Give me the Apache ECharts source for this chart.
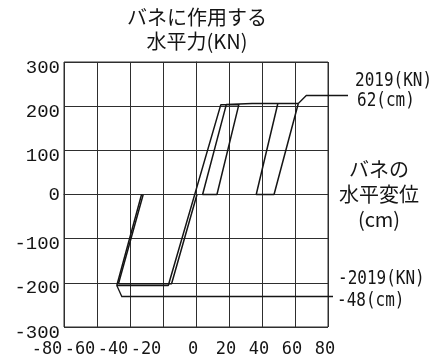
<!DOCTYPE html>
<html>
<head>
<meta charset="utf-8">
<script src="https://cdn.jsdelivr.net/npm/echarts@6/dist/echarts.min.js"></script>
<style>
  html, body { margin: 0; padding: 0; background: #fff; }
  #chart { width: 435px; height: 362px; }
</style>
</head>
<body>
<div id="chart"></div>
<script>
// Axis ranges (displacement in cm, force)
const dispRange = [-80, 80];
const dispStep = 20;
const forceRange = [-300, 300];
const forceStep = 100;

// Hysteresis traces: [displacement, force]
const outerPath = [
  [-33, 0], [-48, -206], [-16.8, -206], [15, 203], [26, 204],
  [12.7, 0], [4, 0], [18.4, 204], [34, 206], [62, 206],
  [47.3, 0], [36.5, 0], [49.6, 206]
];
const innerPath = [
  [-32, 0], [-47, -202], [-14.8, -202], [0.6, 0]
];

// Extreme points and their annotations
const peakPos = [62, 206];
const peakNeg = [-48, -206];
const peakPosText = ['2019(KN)', '62(cm)'];
const peakNegText = ['-2019(KN)', '-48(cm)'];

const titleText = 'バネに作用する\n水平力(KN)';
const xNameText = 'バネの\n水平変位\n(cm)';

const ink = '#151515';
const gridInk = '#2e2e2e';
const cjk = '"Noto Sans CJK JP", sans-serif';
const mono = '"DejaVu Sans Mono", monospace';

const chart = echarts.init(document.getElementById('chart'), null, { renderer: 'canvas' });

const traceSeries = (data) => ({
  type: 'line',
  data: data,
  showSymbol: false,
  symbol: 'none',
  lineStyle: { color: ink, width: 1.5 },
  animation: false,
  silent: true
});

chart.setOption({
  animation: false,
  backgroundColor: '#fff',
  grid: {
    left: 64, right: 107, top: 62, bottom: 35,
    show: true, borderColor: gridInk, borderWidth: 1, backgroundColor: 'transparent'
  },
  xAxis: {
    type: 'value',
    min: dispRange[0], max: dispRange[1], interval: dispStep,
    axisLine: { show: true, lineStyle: { color: gridInk, width: 1 } },
    axisTick: { show: false },
    splitLine: { show: true, lineStyle: { color: gridInk, width: 1 } },
    axisLabel: {
      margin: 14,
      formatter: (v) => v < 0 ? '{n|' + v + '}' : '{p|' + v + '}',
      rich: {
        n: { fontFamily: mono, fontSize: 17, color: ink, padding: [0, 34, 0, 0] },
        p: { fontFamily: mono, fontSize: 17, color: ink, padding: [0, 6, 0, 0] }
      }
    }
  },
  yAxis: {
    type: 'value',
    min: forceRange[0], max: forceRange[1], interval: forceStep,
    axisLine: { show: true, lineStyle: { color: gridInk, width: 1 } },
    axisTick: { show: false },
    splitLine: { show: true, lineStyle: { color: gridInk, width: 1 } },
    axisLabel: {
      margin: 4,
      formatter: (v) => v === 0 ? '{z|0}' : '{t|' + v + '}',
      rich: {
        t: { fontFamily: '"Liberation Mono", monospace', fontSize: 19, color: ink, padding: [11, 0, 0, 0] },
        z: { fontFamily: '"Liberation Mono", monospace', fontSize: 19, color: ink }
      }
    }
  },
  series: [traceSeries(outerPath), traceSeries(innerPath)]
});

// Annotations placed from the library's own coordinate conversion
const pPos = chart.convertToPixel({ gridIndex: 0 }, peakPos);
const pNeg = chart.convertToPixel({ gridIndex: 0 }, peakNeg);

const valueText = (str, x, y) => ({
  type: 'text',
  x: x, y: y, scaleX: 0.8, originX: 0, originY: 0,
  style: { text: str, fontFamily: mono, fontSize: 20, fill: ink, textAlign: 'left', textVerticalAlign: 'middle' }
});

chart.setOption({
  graphic: [
    {
      type: 'polyline',
      shape: { points: [pPos, [pPos[0] + 8, pPos[1] - 8], [348, pPos[1] - 8]] },
      style: { stroke: ink, lineWidth: 1.3, fill: null }
    },
    {
      type: 'polyline',
      shape: { points: [pNeg, [pNeg[0] + 5, pNeg[1] + 11], [333, pNeg[1] + 11]] },
      style: { stroke: ink, lineWidth: 1.3, fill: null }
    },
    {
      type: 'text', x: 197, y: 29,
      style: { text: titleText, fontFamily: cjk, fontSize: 20, lineHeight: 24, fill: ink, textAlign: 'center', textVerticalAlign: 'middle' }
    },
    {
      type: 'text', x: 379, y: 194,
      style: { text: xNameText, fontFamily: cjk, fontSize: 20, lineHeight: 25, fill: ink, textAlign: 'center', textVerticalAlign: 'middle' }
    },
    valueText(peakPosText[0], 355, 81),
    valueText(peakPosText[1], 357, 101),
    valueText(peakNegText[0], 338, 279),
    valueText(peakNegText[1], 337, 301)
  ]
});
</script>
</body>
</html>
